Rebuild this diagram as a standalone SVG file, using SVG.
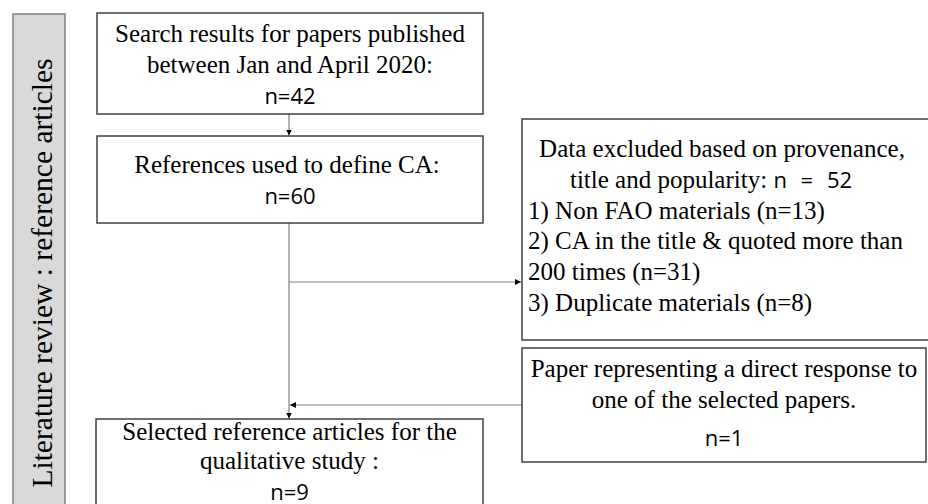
<svg xmlns="http://www.w3.org/2000/svg" width="928" height="504" viewBox="0 0 928 504">
<style>
.box{fill:#fff;stroke:#404040;stroke-width:1.5}
.t{font-family:"Liberation Serif","Times New Roman",serif;font-size:25px;fill:#000}
.s{font-family:"Open Sans","DejaVu Sans",sans-serif;font-size:22px;fill:#000}
.c{text-anchor:middle}
.ln{fill:none;stroke:#7f7f7f;stroke-width:1.2}
</style>
<defs>
<marker id="ah" viewBox="0 0 10 10" refX="10" refY="5" markerWidth="6" markerHeight="6" markerUnits="userSpaceOnUse" orient="auto">
<path d="M0,0 L10,5 L0,10 z" fill="#000"/>
</marker>
</defs>
<g id="band">
<rect x="13" y="14" width="52" height="500" fill="#d9d9d9" stroke="#7f7f7f" stroke-width="1.5"/>
<text class="t c" style="font-size:29.5px" transform="translate(52,273) rotate(-90)">Literature review : reference articles</text>
</g>
<g id="connectors">
<path class="ln" d="M289,114 V135.5" marker-end="url(#ah)"/>
<path class="ln" d="M289,223 V418.5" marker-end="url(#ah)"/>
<path class="ln" d="M289,282 H521" marker-end="url(#ah)"/>
<path class="ln" d="M522,405 H290" marker-end="url(#ah)"/>
</g>
<g id="search">
<rect class="box" x="97" y="13" width="386" height="101"/>
<text class="t c" x="290" y="42">Search results for papers published</text>
<text class="t c" x="290" y="73">between Jan and April 2020:</text>
<text class="s c" x="290" y="104">n=42</text>
</g>
<g id="references">
<rect class="box" x="97" y="136" width="386" height="87"/>
<text class="t c" x="287" y="173">References used to define CA:</text>
<text class="s c" x="290" y="204">n=60</text>
</g>
<g id="excluded">
<rect class="box" x="522" y="119" width="420" height="221"/>
<text class="t c" x="722" y="157">Data excluded based on provenance,</text>
<text class="t c" x="711" y="188">title and popularity: <tspan class="s" style="word-spacing:8px">n = 52</tspan></text>
<text class="t" x="528" y="219">1) Non FAO materials (n=13)</text>
<text class="t" x="528" y="249">2) CA in the title &amp; quoted more than</text>
<text class="t" x="528" y="280">200 times (n=31)</text>
<text class="t" x="528" y="311">3) Duplicate materials (n=8)</text>
</g>
<g id="response">
<rect class="box" x="522" y="348" width="404" height="114"/>
<text class="t c" x="724" y="377">Paper representing a direct response to</text>
<text class="t c" x="724" y="408">one of the selected papers.</text>
<text class="s c" x="724" y="446">n=1</text>
</g>
<g id="selected">
<rect class="box" x="96" y="419" width="387" height="100"/>
<text class="t c" x="289.5" y="440">Selected reference articles for the</text>
<text class="t c" x="289.5" y="469">qualitative study :</text>
<text class="s c" x="289.5" y="500">n=9</text>
</g>
</svg>
